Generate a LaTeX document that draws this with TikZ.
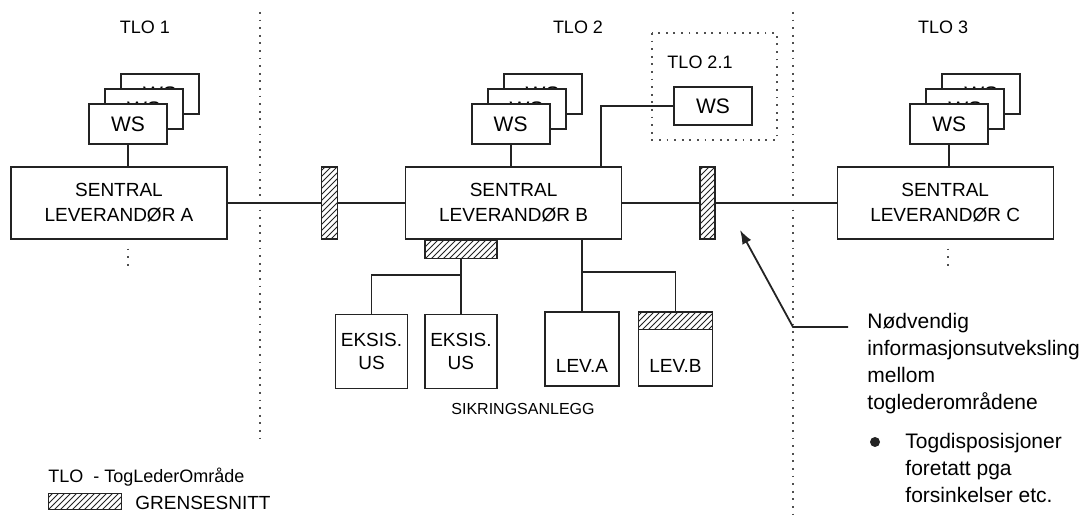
\documentclass[tikz,border=0pt]{standalone}
\usepackage{fontspec}
\setmainfont{Liberation Sans}
\usetikzlibrary{arrows.meta,positioning,calc,patterns}
\definecolor{InkBlack}{RGB}{35,35,35}
\tikzset{
  sentralbox/.style={draw=InkBlack,line width=0.7pt,fill=white,
    minimum width=108pt,minimum height=36pt,align=center,inner sep=0pt,
    font=\fontsize{9.5}{12.5}\selectfont},
  wsbox/.style={draw=InkBlack,line width=0.9pt,fill=white,
    minimum width=39pt,minimum height=20pt,inner sep=0pt,
    font=\fontsize{10.5}{12}\selectfont},
  sikbox/.style={draw=InkBlack,line width=0.7pt,fill=white,
    minimum width=36pt,minimum height=37pt,align=center,inner sep=0pt,
    font=\fontsize{9.5}{11.5}\selectfont},
  levbox/.style={sikbox,minimum width=37pt,text height=25pt,text depth=1pt},
  gsbox/.style={draw=InkBlack,line width=0.6pt,pattern=north east lines,
    pattern color=InkBlack,inner sep=0pt},
  link/.style={draw=InkBlack,line width=0.9pt},
  border/.style={draw=InkBlack!80,line width=0.9pt,dash pattern=on 0.9pt off 2.9pt},
  tlolabel/.style={font=\fontsize{9}{11}\selectfont},
  notetext/.style={align=left,font=\fontsize{10.5}{13.5}\selectfont,
    inner sep=0pt,anchor=north west},
  callout/.style={-{Latex[length=7pt,width=5pt]},line width=0.9pt,draw=InkBlack},
}

\begin{document}
\begin{tikzpicture}[x=1pt,y=1pt]
\useasboundingbox (0,0) rectangle (542.5,-261);
\draw[border] (130,-6) -- (130,-221);
\draw[border] (396.5,-6) -- (396.5,-260);
\node[tlolabel] (tlo1) at (72.5,-13.5) {TLO 1};
\node[tlolabel] (tlo2) at (289,-13.5) {TLO 2};
\node[tlolabel] (tlo3) at (471.5,-13.5) {TLO 3};

\node[sentralbox] (sentA) at (59.5,-101.5) {SENTRAL\\LEVERANDØR A};
\node[gsbox,minimum width=8pt,minimum height=36pt,right=46.5pt of sentA] (gsA) {};
\node[sentralbox,right=33.5pt of gsA] (sentB) {SENTRAL\\LEVERANDØR B};
\node[gsbox,minimum width=7.5pt,minimum height=36pt,right=38.5pt of sentB] (gsC) {};
\node[sentralbox,right=60.5pt of gsC] (sentC) {SENTRAL\\LEVERANDØR C};
\draw[link] (sentA) -- (gsA);
\draw[link] (gsA) -- (sentB);
\draw[link] (sentB) -- (gsC);
\draw[link] (gsC) -- (sentC);

\foreach \s/\dx in {A/4.5,B/-1.5,C/2}{
  \coordinate (c\s) at ($(sent\s.north)+(\dx,21)$);
  \foreach \i in {2,1,0}
    \node[wsbox] (ws\s\i) at ($(c\s)+(8*\i,7.5*\i)$) {WS};
  \draw[link] (ws\s0) -- (ws\s0 |- sent\s.north);
}
\draw[border] ($(sentA.south)+(4.5,-4.5)$) -- ++(0,-9);
\draw[border] ($(sentC.south)+(1.5,-4.5)$) -- ++(0,-9);

\draw[border,line width=0.8pt] (326,-16.5) rectangle (388.5,-70);
\node[tlolabel] (tlo21) at (350,-31) {TLO 2.1};
\node[wsbox,minimum height=19pt] (ws21) at (356.5,-53) {WS};
\coordinate (tapB) at ($(sentB.north east)+(-10.5,0)$);
\draw[link] (tapB) |- (ws21.west);

\node[gsbox,minimum width=36pt,minimum height=9pt,anchor=north] (gsSik) at ($(sentB.south west)+(28,0)$) {};
\node[sikbox,below=27.5pt of gsSik] (eks2) {EKSIS.\\US};
\node[sikbox,left=8pt of eks2] (eks1) {EKSIS.\\US};
\node[levbox] (levA) at (291,-174.5) {LEV.A};
\node[levbox,right=9pt of levA] (levB) {LEV.B};
\node[gsbox,minimum width=37pt,minimum height=9pt,anchor=north] (gsLevB) at (levB.north) {};
\draw[link] (gsSik) -- (eks2);
\draw[link] (eks1.north) -- ++(0,19.5) -| (gsSik.south);
\draw[link] (levA.north |- sentB.south) -- (levA.north);
\draw[link] (levB.north) -- ++(0,19.5) -| (levA.north);
\node[font=\fontsize{8}{10}\selectfont] (sik) at (261.5,-204.5) {SIKRINGSANLEGG};

\node[notetext] (note) at (433.5,-156.5) {Nødvendig\\informasjonsutveksling\\mellom\\toglederområdene};
\coordinate (calloutstart) at ($(note.north west)+(-9.5,-7)$);
\coordinate (bend) at (396.5,-163.5);
\coordinate (tip) at (370,-115);
\draw[callout] (calloutstart) -- (bend) -- (tip);
\node[circle,fill=InkBlack,inner sep=0pt,minimum size=5pt] (dot) at (437.5,-221) {};
\node[notetext] (note2) at (452.5,-216.5) {Togdisposisjoner\\foretatt pga\\forsinkelser etc.};

\node[anchor=west,font=\fontsize{9}{11}\selectfont,inner sep=0pt] (legTLO) at (24,-238.5) {TLO\ \ - TogLederOmråde};
\node[gsbox,line width=0.3pt,minimum width=36.5pt,minimum height=8pt,anchor=north west] (legGS) at (24,-246.5) {};
\node[anchor=west,font=\fontsize{9.5}{11}\selectfont,inner sep=0pt] (legGStext) at (67.5,-251.5) {GRENSESNITT};
\end{tikzpicture}
\end{document}
